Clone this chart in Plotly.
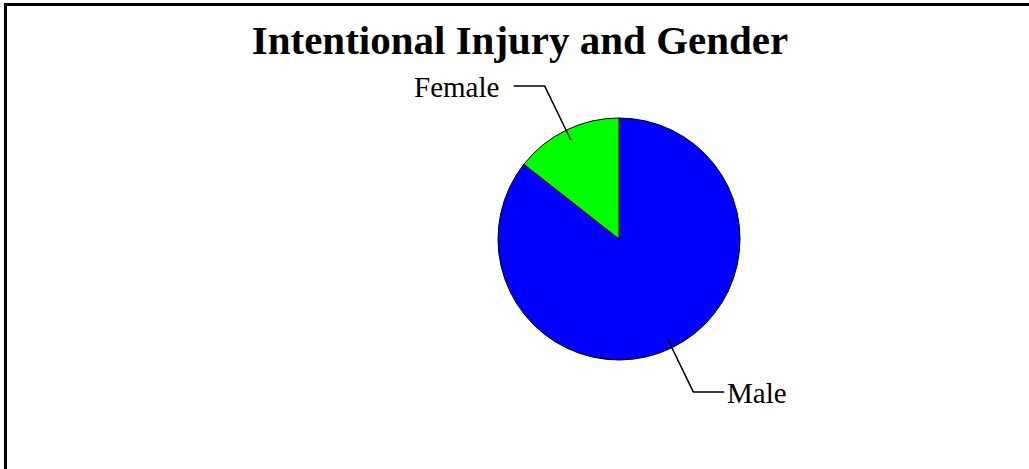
import math
import plotly.graph_objects as go

# Share of intentional injuries by gender (%)
labels = ["Male", "Female"]
values = [85.6, 14.4]
colors = ["#0000FF", "#00FF00"]

W, H = 1029, 469
SERIF = "Liberation Serif, Times New Roman, serif"

# Pie placement in paper fractions
dom_x = [498 / W, 740 / W]
dom_y = [109 / H, 351 / H]

cx = (dom_x[0] + dom_x[1]) / 2 * W
cy = (1 - (dom_y[0] + dom_y[1]) / 2) * H
r = min((dom_x[1] - dom_x[0]) * W, (dom_y[1] - dom_y[0]) * H) / 2

# Slices run clockwise from 12 o'clock: Male first, Female closes the circle
fig = go.Figure(
    go.Pie(
        labels=labels,
        values=values,
        sort=False,
        direction="clockwise",
        rotation=0,
        marker=dict(colors=colors, line=dict(color="black", width=1)),
        textinfo="none",
        hoverinfo="label+percent",
        domain=dict(x=dom_x, y=dom_y),
        showlegend=False,
    )
)


def px_to_paper(x, y):
    return x / W, 1 - y / H


# Leader lines + labels, placed at each slice's mid-angle
shapes = []
annotations = []
total = sum(values)
start = 0.0
for lab, v in zip(labels, values):
    mid = (start + v / 2) / total * 2 * math.pi  # clockwise from 12 o'clock
    start += v
    dx, dy = math.sin(mid), -math.cos(mid)
    ax, ay = cx + 0.91 * r * dx, cy + 0.91 * r * dy
    ex, ey = cx + 1.405 * r * dx, cy + 1.405 * r * dy
    side = 1 if dx > 0 else -1
    hx = ex + side * 31
    p = [px_to_paper(*pt) for pt in [(ax, ay), (ex, ey), (hx, ey)]]
    path = "M {} {} L {} {} L {} {}".format(p[0][0], p[0][1], p[1][0], p[1][1], p[2][0], p[2][1])
    shapes.append(dict(type="path", xref="paper", yref="paper", path=path,
                       line=dict(color="black", width=1.5)))
    tx = hx + (1 if side > 0 else -13)
    tpx, tpy = px_to_paper(tx, ey + 1)
    annotations.append(dict(
        text=lab, x=tpx, y=tpy, xref="paper", yref="paper",
        xanchor="left" if side > 0 else "right", yanchor="middle",
        showarrow=False, font=dict(family=SERIF, size=29, color="black"),
    ))

# Outer frame (left and top edges visible)
shapes.append(dict(type="line", xref="paper", yref="paper",
                   x0=5.5 / W, x1=5.5 / W, y0=0, y1=1 - 3 / H,
                   line=dict(color="black", width=3)))
shapes.append(dict(type="line", xref="paper", yref="paper",
                   x0=4 / W, x1=1, y0=1 - 4.5 / H, y1=1 - 4.5 / H,
                   line=dict(color="black", width=3)))

fig.update_layout(
    width=W,
    height=H,
    margin=dict(l=0, r=0, t=0, b=0),
    paper_bgcolor="white",
    plot_bgcolor="white",
    title=dict(
        text="<b>Intentional Injury and Gender</b>",
        x=520 / W, xanchor="center",
        y=1 - 40 / H, yanchor="middle", yref="container",
        font=dict(family=SERIF, size=41, color="black"),
    ),
    shapes=shapes,
    annotations=annotations,
)

fig.write_html("out.html")
